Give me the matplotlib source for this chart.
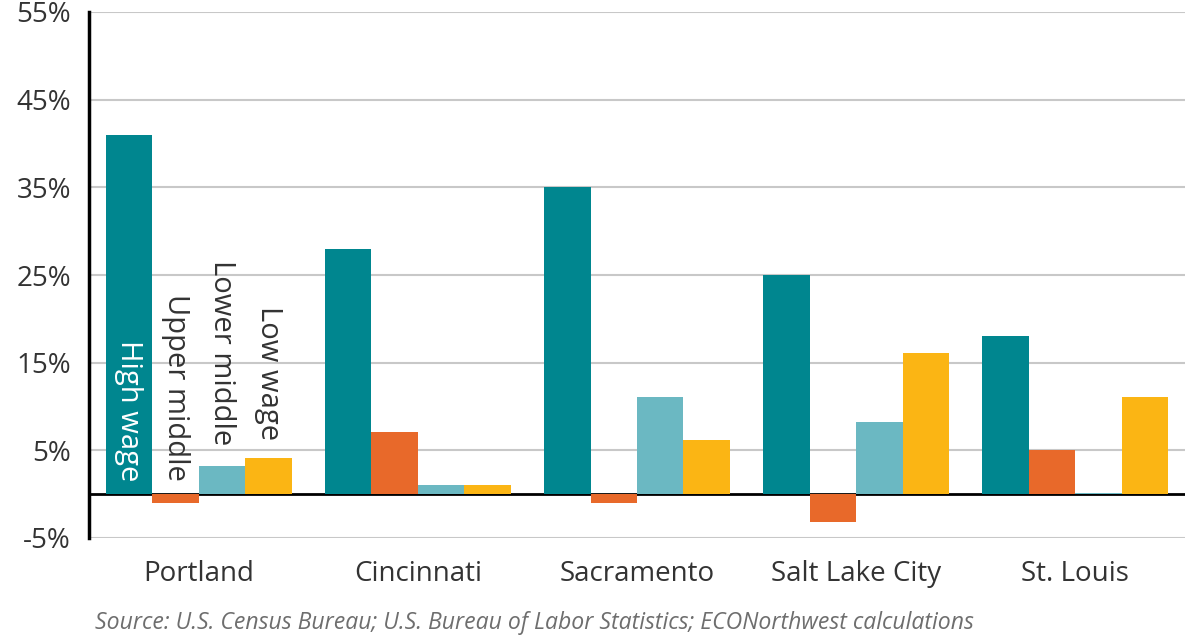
import numpy as np
import matplotlib
matplotlib.use("Agg")
import matplotlib.pyplot as plt

plt.rcParams["font.family"] = ["Open Sans", "DejaVu Sans"]

# ---- Data ----
cities = ["Portland", "Cincinnati", "Sacramento", "Salt Lake City", "St. Louis"]
series = ["High wage", "Upper middle", "Lower middle", "Low wage"]
high_wage = [41.0, 28.0, 35.0, 25.0, 18.0]
upper_middle = [-1.0, 7.1, -1.0, -3.2, 5.0]
lower_middle = [3.2, 1.0, 11.1, 8.2, 0.1]
low_wage = [4.1, 1.0, 6.2, 16.1, 11.1]
yticks = [-5, 5, 15, 25, 35, 45, 55]
source = "Source: U.S. Census Bureau; U.S. Bureau of Labor Statistics; ECONorthwest calculations"

colors = ["#00868F", "#E8692A", "#6BB8C2", "#FBB514"]
label_colors = ["white", "#333333", "#333333", "#333333"]

fig = plt.figure(figsize=(11.85, 6.39), dpi=100)
ax = fig.add_axes([89 / 1185, 1 - 538 / 639, 1 - 89 / 1185, 526 / 639])

x = np.arange(len(cities))
w = 0.212
offsets = np.array([-1.5, -0.5, 0.5, 1.5]) * w
for vals, off, col in zip([high_wage, upper_middle, lower_middle, low_wage], offsets, colors):
    ax.bar(x + off, vals, width=w, color=col, zorder=3)

# series labels written vertically on the Portland bars
label_y = [1.5, 1.5, 5.6, 6.2]
for i, (name, off) in enumerate(zip(series, offsets)):
    ax.text(x[0] + off, label_y[i], name, rotation=270, ha="center", va="bottom",
            color=label_colors[i], fontsize=21, zorder=4)

ax.set_xlim(-0.5, 4.5)
ax.set_ylim(-5, 55)
ax.set_yticks(yticks)
ax.set_yticklabels([f"{t}%" for t in yticks], fontsize=20, color="#333333")
ax.set_xticks(x)
ax.set_xticklabels(cities, fontsize=20, color="#333333")
ax.tick_params(axis="x", length=0, pad=16)
ax.tick_params(axis="y", length=0, pad=13)
ax.grid(axis="y", color="#C8C8C8", linewidth=1.5, zorder=0)
ax.axhline(0, color="black", linewidth=2, zorder=2)
for s in ["top", "right", "bottom"]:
    ax.spines[s].set_visible(False)
ax.spines["left"].set_linewidth(2.5)
ax.spines["left"].set_color("black")

fig.text(95 / 1185, 1 - 623 / 639, source, fontsize=16.6, style="italic",
         color="#6E6E6E", va="center", ha="left")

fig.savefig("out.png", dpi=100)
